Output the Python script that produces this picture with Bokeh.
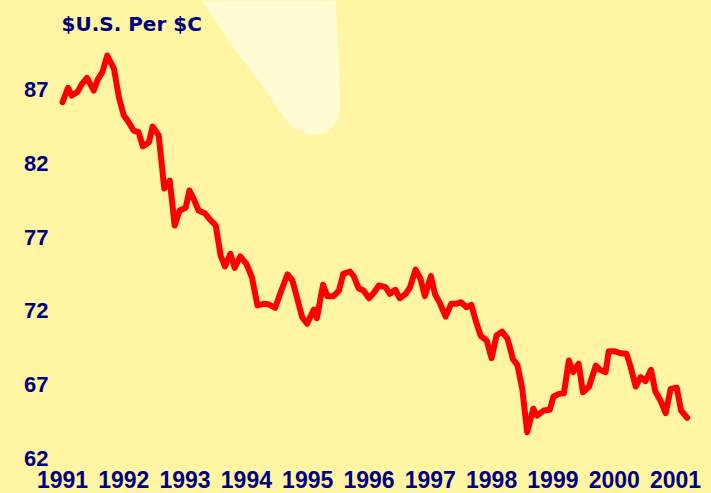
from bokeh.plotting import figure
from bokeh.models import FixedTicker, Label, PolyAnnotation
from bokeh.embed import file_html
from bokeh.resources import INLINE

# ---------------- data ----------------
years = [
    1991.00, 1991.09, 1991.15, 1991.24, 1991.32, 1991.40, 1991.51, 1991.58, 1991.65, 1991.73, 1991.84, 1991.92,
    1992.00, 1992.08, 1992.16, 1992.24, 1992.31, 1992.41, 1992.47, 1992.57, 1992.66, 1992.75, 1992.83, 1992.91,
    1993.01, 1993.07, 1993.14, 1993.22, 1993.32, 1993.41, 1993.50, 1993.58, 1993.65, 1993.74, 1993.81, 1993.90,
    1994.00, 1994.09, 1994.18, 1994.28, 1994.37, 1994.47, 1994.57, 1994.67, 1994.75, 1994.83, 1994.91, 1994.99,
    1995.10, 1995.15, 1995.25, 1995.32, 1995.42, 1995.51, 1995.58, 1995.69, 1995.75, 1995.83, 1995.91,
    1996.00, 1996.08, 1996.16, 1996.27, 1996.34, 1996.43, 1996.50, 1996.60, 1996.67, 1996.76, 1996.84, 1996.91,
    1997.01, 1997.08, 1997.15, 1997.25, 1997.34, 1997.42, 1997.50, 1997.59, 1997.67, 1997.74, 1997.82, 1997.92,
    1998.00, 1998.08, 1998.17, 1998.26, 1998.35, 1998.42, 1998.50, 1998.58, 1998.68, 1998.74, 1998.85, 1998.95,
    1999.01, 1999.10, 1999.18, 1999.26, 1999.33, 1999.42, 1999.49, 1999.59, 1999.70, 1999.77, 1999.86, 1999.91,
    2000.00, 2000.10, 2000.20, 2000.27, 2000.35, 2000.43, 2000.51, 2000.60, 2000.67, 2000.76, 2000.84, 2000.92,
    2001.02, 2001.09, 2001.19,
]
rates = [
    86.14, 87.12, 86.59, 86.82, 87.39, 87.79, 86.93, 87.72, 88.17, 89.30, 88.40, 86.48,
    85.24, 84.78, 84.22, 84.11, 83.14, 83.43, 84.49, 83.88, 80.30, 80.83, 77.79, 78.80,
    78.99, 80.16, 79.59, 78.80, 78.62, 78.17, 77.79, 75.75, 75.01, 75.87, 74.92, 75.69,
    75.19, 74.28, 72.37, 72.48, 72.43, 72.21, 73.38, 74.47, 74.06, 72.82, 71.57, 71.13,
    72.09, 71.51, 73.77, 73.00, 73.00, 73.38, 74.51, 74.67, 74.35, 73.54, 73.38,
    72.86, 73.23, 73.72, 73.61, 73.16, 73.43, 72.86, 73.16, 73.61, 74.80, 74.17, 73.00,
    74.36, 73.09, 72.59, 71.62, 72.48, 72.48, 72.59, 72.25, 72.41, 71.35, 70.33, 69.99,
    68.80, 70.33, 70.60, 70.11, 68.71, 68.35, 66.72, 63.78, 65.37, 64.91, 65.25, 65.30,
    66.20, 66.38, 66.42, 68.64, 67.85, 68.42, 66.49, 66.88, 68.30, 68.01, 67.85, 69.27,
    69.27, 69.13, 69.09, 68.19, 66.88, 67.51, 67.24, 68.01, 66.56, 65.88, 65.07, 66.72,
    66.79, 65.25, 64.76,
]
y_ticks = [62, 67, 72, 77, 82, 87]
x_ticks = [1991, 1992, 1993, 1994, 1995, 1996, 1997, 1998, 1999, 2000, 2001]
title_text = "$U.S. Per $C"

# ---------------- style ----------------
BG = "#FFF5A3"
PALE = "#FFFCD4"
NAVY = "#000080"
RED = "#FF0000"

p = figure(width=711, height=493, output_backend="svg", toolbar_location=None,
           x_range=(1990.837, 2001.587), y_range=(61.865, 93.03),
           min_border_left=52, min_border_right=0, min_border_top=0, min_border_bottom=33)

p.background_fill_color = BG
p.border_fill_color = BG
p.outline_line_color = None
p.xgrid.visible = False
p.ygrid.visible = False

for ax in (p.xaxis[0], p.yaxis[0]):
    ax.axis_line_color = None
    ax.major_tick_line_color = None
    ax.minor_tick_line_color = None
    ax.major_tick_out = 0
    ax.major_tick_in = 0
    ax.major_label_text_font = "Liberation Sans"
    ax.major_label_text_font_style = "bold"
    ax.major_label_text_color = NAVY

p.xaxis.ticker = FixedTicker(ticks=x_ticks)
p.yaxis.ticker = FixedTicker(ticks=y_ticks)
p.xaxis.major_label_text_font_size = "23px"
p.yaxis.major_label_text_font_size = "22px"
p.xaxis.major_label_standoff = 10
p.yaxis.major_label_standoff = 4


# decorative pale shape (pixel outline converted to data space)
def px2data(px, py):
    return 1991 + (px - 62) / 61.3, 87 - (py - 89) / 14.76


beam_px = [(200, -2), (335, -2), (338, 50), (340, 107), (337, 120), (327, 132), (310, 135),
           (293, 127), (283, 117), (260, 83), (233, 47)]
bx, by = zip(*[px2data(a, b) for a, b in beam_px])
p.add_layout(PolyAnnotation(xs=list(bx), ys=list(by), fill_color=PALE, fill_alpha=1.0,
                            line_color=None, level="underlay"))

p.line(years, rates, line_color=RED, line_width=6, line_join="round", line_cap="round")

tx, ty = px2data(61, 23.5)
p.add_layout(Label(x=tx, y=ty, text=title_text, text_font="DejaVu Sans",
                   text_font_style="bold", text_font_size="20px", text_color=NAVY,
                   text_baseline="alphabetic", text_align="left"))

html = file_html(p, INLINE)
html = html.replace("</head>", "<style>body{background:%s;}</style></head>" % BG, 1)
open("out.html", "w").write(html)
